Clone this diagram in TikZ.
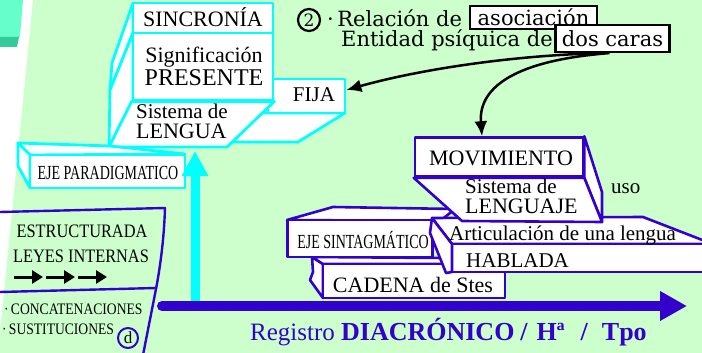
\documentclass[tikz,border=0pt]{standalone}
\usepackage{fontspec}
\setmainfont{Liberation Serif}
\newfontfamily\notefont{DejaVu Serif}
\usetikzlibrary{arrows.meta, positioning, calc}

\definecolor{bggreen}{RGB}{204,255,204}
\definecolor{sinccyan}{RGB}{0,255,255}
\definecolor{diablue}{RGB}{51,0,204}
\definecolor{tealtop}{RGB}{102,255,204}
\definecolor{tealdark}{RGB}{51,204,153}
\newcommand{\setsize}[1]{\fontsize{#1pt}{#1pt}\selectfont}

\begin{document}
\begin{tikzpicture}[x=1pt, y=-1pt,
    cyanface/.style={draw=sinccyan, line width=2.8pt, fill=white, line join=round, inner sep=0pt},
    blueface/.style={draw=diablue, line width=2.6pt, fill=white, line join=round, inner sep=0pt},
    words/.style={inner sep=0pt, anchor=base},
    notebox/.style={draw=black, line width=2.2pt, fill=white, inner sep=0pt, font=\notefont\setsize{21}},
    notearrow/.style={draw=black, line width=2.5pt, -{Latex[length=15pt, width=13pt]}},
    blueline/.style={draw=diablue, line width=2.4pt, line join=round}
]
\clip (0,0) rectangle (702,353);
\fill[white] (0,0) rectangle (702,353);
\fill[bggreen] (33,0) -- (702,0) -- (702,353) -- (-2,353) -- cycle;
\fill[tealtop] (0,0) -- (23,0) -- (20,37) -- (0,37) -- cycle;
\fill[tealdark] (0,37) -- (19,37) -- (17,47) -- (0,47) -- cycle;

% synchronic box
\draw[cyanface] (255,113) -- (345,113) -- (298,142) -- (233,142) -- cycle;
\node (fijaface) [cyanface, minimum width=77pt, minimum height=34pt] at (306.5,96) {};
\draw[cyanface] (133,3) -- (112,63) -- (110,90) -- (133,33) -- cycle;
\draw[cyanface] (133,33) -- (110,90) -- (109,147) -- (133,100) -- cycle;
\node (sincface) [cyanface, minimum width=140pt, minimum height=30pt] at (203,18) {};
\node (signifface) [cyanface, minimum width=140pt, minimum height=67pt] at (203,66.5) {};
\draw[cyanface] (signifface.south west) -- (signifface.south east) -- (227,147) -- (109,147) -- cycle;
\draw[cyanface] (18,143) -- (110,146) -- (185,154) -- (30,155) -- cycle;
\draw[cyanface] (18,143) -- (30,155) -- (30,188) -- (18,166) -- cycle;
\node (ejeparface) [cyanface, minimum width=155pt, minimum height=33pt] at (107.5,171.5) {};

\node (sincronia) [words, font=\setsize{22}] at (203,27) {SINCRONÍA};
\node (signif) [words, font=\setsize{22}] at (204,63) {Significación};
\node (presente) [words, font=\setsize{24}] at (204,85) {PRESENTE};
\node (sistema1) [words, anchor=base west, font=\setsize{21}] at (136,118) {Sistema de};
\node (lengua) [words, anchor=base west, font=\setsize{22}] at (136,138) {LENGUA};
\node (fija) [words, font=\setsize{21}] at (314,102) {FIJA};
\node (ejepar) [words, font=\setsize{20}] at (108,179) {\scalebox{0.7}[1]{EJE PARADIGMATICO}};

\coordinate (parbottom) at (195,302);
\coordinate (partop) at (195,151);
\draw[draw=sinccyan, line width=9pt, -{Triangle[width=25pt, length=25pt]}] (parbottom) -- (partop);

% diachronic boxes
\draw[blueface] (312,257) -- (323,264) -- (323,298) -- (310,280) -- (313,272) -- cycle;
\draw[blueface] (312,257) -- (445,258) -- (455,264) -- (323,264) -- cycle;
\node (cadenaface) [blueface, minimum width=182pt, minimum height=34pt] at (414,281) {};
\draw[blueface] (287,220) -- (333,207) -- (455,209) -- (440,221) -- cycle;
\node (ejesintface) [blueface, minimum width=145pt, minimum height=37pt] at (360,238.5) {};
\draw[blueface] (432,218) -- (643,217) -- (710,243) -- (710,244) -- (452,244) -- cycle;
\node (habladaface) [blueface, minimum width=262pt, minimum height=28pt] at (583,258) {};
\draw[blueface] (432,218) -- (452,244) -- (452,272) -- (446,273) -- (430,233) -- cycle;
\node (movface) [blueface, minimum width=168pt, minimum height=39pt] at (499,157) {};
\draw[blueface] (movface.north east) -- (602,192) -- (602,222) -- (movface.south east) -- cycle;
\draw[blueface] (movface.south west) -- (movface.south east) -- (602,222) -- (462,221) -- cycle;

\node (cadena) [words, font=\setsize{22}] at (413,292) {CADENA de Stes};
\node (ejesint) [words, font=\setsize{20}] at (363,248) {\scalebox{0.7}[1]{EJE SINTAGMÁTICO}};
\node (articulacion) [words, anchor=base west, font=\setsize{21}] at (449,240) {Articulación de una lengua};
\node (hablada) [words, anchor=base west, font=\setsize{21}] at (466,267) {HABLADA};
\node (movimiento) [words, font=\setsize{22}] at (501,165) {MOVIMIENTO};
\node (sistema2) [words, anchor=base west, font=\setsize{21}] at (465,193) {Sistema de};
\node (lenguaje) [words, anchor=base west, font=\setsize{22}] at (465,213) {LENGUAJE};
\node (uso) [words, anchor=base west, font=\setsize{21}] at (611,193) {uso};

\coordinate (diastart) at (162,306);
\coordinate (diaend) at (687,306);
\draw[draw=diablue, line width=10pt, line cap=round, -{Triangle[width=28pt, length=27pt]}] (diastart) -- (diaend);
\node (registro) [words, anchor=base west, text=diablue, font=\setsize{25}] at (250,340)
  {Registro {\setsize{26}\bfseries DIACRÓNICO\hspace{6pt}/\hspace{9pt}Hª\hspace{16pt}/\hspace{14pt}Tpo}};

% sign note
\node (num2) [circle, draw, line width=2.2pt, minimum size=22pt, inner sep=0pt, font=\notefont\setsize{17}] at (309,20) {2};
\node (relacion) [words, anchor=base west, font=\notefont\setsize{21}] at (327,27) {·\,Relación de};
\node (asociacion) [notebox, minimum width=127pt, minimum height=23pt] at (533.5,17.5) {asociación};
\node (entidad) [words, anchor=base west, font=\notefont\setsize{21}] at (341,47) {Entidad psíquica de};
\node (doscaras) [notebox, minimum width=114pt, minimum height=27pt] at (612.5,38.5) {dos caras};
\draw[notearrow] ([xshift=-12pt]doscaras.south) .. controls (500,56) and (410,72) .. ([yshift=6pt]fijaface.east);
\draw[notearrow] ([xshift=-3pt]doscaras.south) .. controls (520,60) and (478,85) .. ([xshift=-17pt]movface.north);

% structure box
\draw[blueline] (0,212) -- (165,208) .. controls (164,240) and (160,268) .. (156,289) -- (143,355);
\draw[blueline] (0,292) -- (156,288);
\node (estructurada) [words, font=\setsize{19}] at (82,237) {\scalebox{0.86}[1]{ESTRUCTURADA}};
\node (leyes) [words, font=\setsize{19}] at (81,262) {\scalebox{0.86}[1]{LEYES INTERNAS}};
\foreach \i in {0,1,2}{
  \coordinate (from\i) at ({14+32*\i},277);
  \coordinate (to\i) at ({43+32*\i},277);
  \draw[line width=3pt, -{Triangle[width=13pt, length=11pt]}] (from\i) -- (to\i);
}
\node (concat) [words, anchor=base west, font=\setsize{16}] at (4,314) {\scalebox{0.85}[1]{·\,CONCATENACIONES}};
\node (sustit) [words, anchor=base west, font=\setsize{16}] at (2,334) {\scalebox{0.85}[1]{·\,SUSTITUCIONES}};
\node (dmark) [circle, draw=diablue, line width=2pt, minimum size=20pt, inner sep=0pt, font=\setsize{17}] at (128,338) {d};
\end{tikzpicture}
\end{document}
